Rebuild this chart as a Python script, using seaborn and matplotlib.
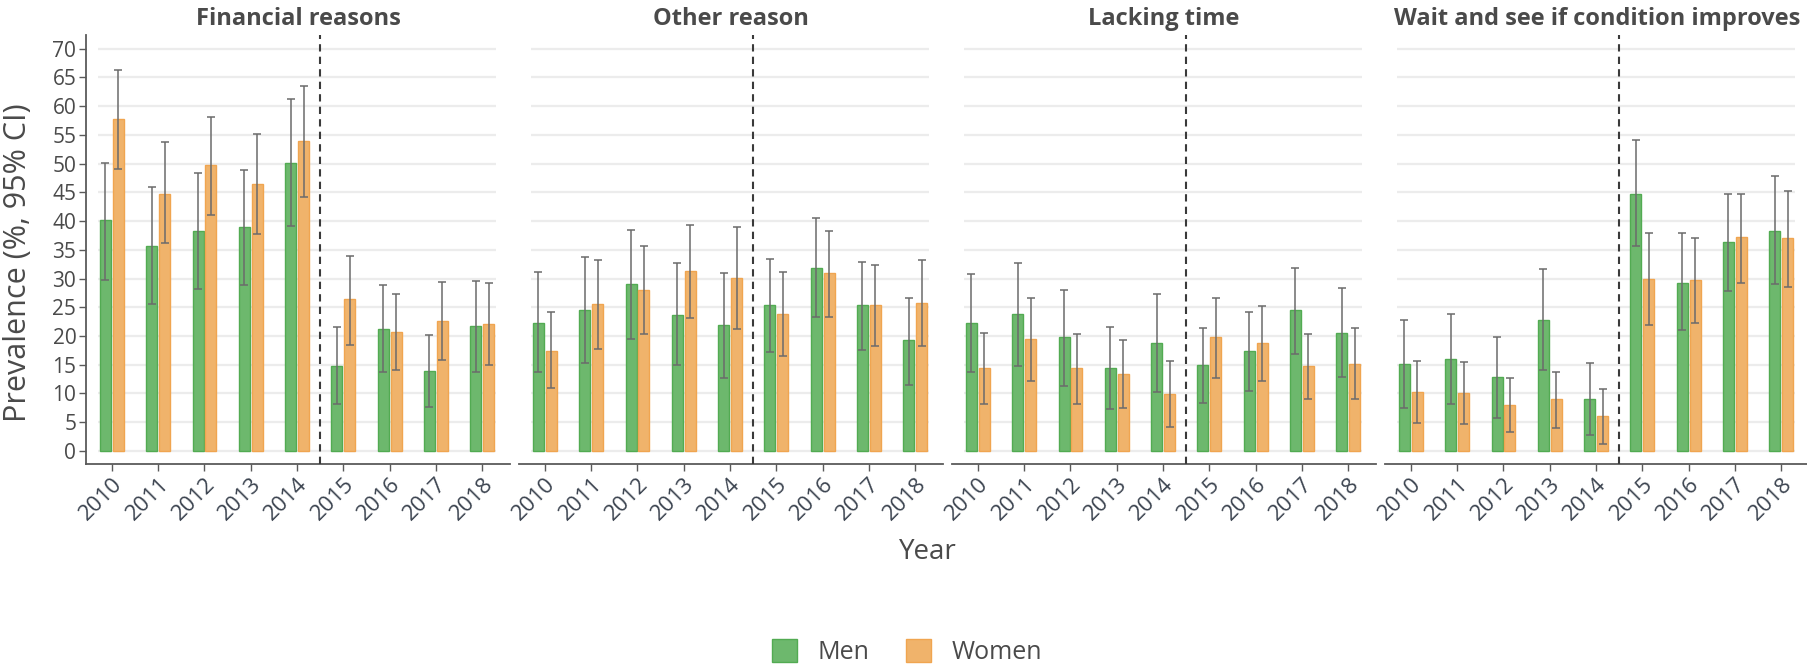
import numpy as np
import pandas as pd
import seaborn as sns
import matplotlib
matplotlib.use("Agg")
import matplotlib.pyplot as plt
from matplotlib.patches import Patch

# ---- data -----------------------------------------------------------------
years = ["2010", "2011", "2012", "2013", "2014", "2015", "2016", "2017", "2018"]
reasons = ["Financial reasons", "Other reason", "Lacking time",
           "Wait and see if condition improves"]
sexes = ["Men", "Women"]

# prevalence (%) with lower / upper 95% CI, one list per reason and sex
fin_men = [40.1, 35.6, 38.3, 39.0, 50.1, 14.7, 21.2, 13.9, 21.7]
fin_men_lo = [29.8, 25.5, 28.2, 28.9, 39.1, 8.2, 13.7, 7.7, 13.7]
fin_men_hi = [50.1, 45.9, 48.3, 48.9, 61.3, 21.5, 28.9, 20.1, 29.6]
fin_women = [57.7, 44.8, 49.8, 46.4, 53.9, 26.4, 20.7, 22.6, 22.1]
fin_women_lo = [49.0, 36.2, 41.1, 37.7, 44.2, 18.5, 14.0, 15.8, 14.9]
fin_women_hi = [66.3, 53.7, 58.2, 55.1, 63.6, 34.0, 27.3, 29.4, 29.3]

oth_men = [22.3, 24.6, 29.0, 23.7, 21.9, 25.4, 31.8, 25.4, 19.3]
oth_men_lo = [13.7, 15.3, 19.4, 14.9, 12.7, 17.2, 23.3, 17.6, 11.5]
oth_men_hi = [31.1, 33.8, 38.5, 32.7, 30.9, 33.4, 40.6, 32.9, 26.6]
oth_women = [17.4, 25.5, 28.0, 31.3, 30.1, 23.9, 30.9, 25.4, 25.7]
oth_women_lo = [11.0, 17.8, 20.3, 23.2, 21.2, 16.5, 23.3, 18.3, 18.2]
oth_women_hi = [24.1, 33.3, 35.6, 39.3, 39.0, 31.2, 38.3, 32.3, 33.3]

time_men = [22.3, 23.8, 19.8, 14.4, 18.7, 14.9, 17.3, 24.5, 20.5]
time_men_lo = [13.7, 14.7, 11.3, 7.2, 10.2, 8.4, 10.4, 16.9, 12.9]
time_men_hi = [30.8, 32.7, 28.0, 21.5, 27.3, 21.4, 24.1, 31.8, 28.4]
time_women = [14.4, 19.4, 14.4, 13.3, 9.9, 19.8, 18.7, 14.7, 15.1]
time_women_lo = [8.2, 12.2, 8.2, 7.4, 4.1, 12.7, 12.2, 9.0, 9.0]
time_women_hi = [20.5, 26.6, 20.3, 19.3, 15.6, 26.6, 25.2, 20.3, 21.4]

wait_men = [15.1, 16.0, 12.9, 22.8, 9.0, 44.8, 29.3, 36.3, 38.3]
wait_men_lo = [7.5, 8.1, 5.7, 14.0, 2.7, 35.6, 21.0, 27.9, 29.1]
wait_men_hi = [22.8, 23.9, 19.9, 31.6, 15.3, 54.1, 37.9, 44.7, 47.8]
wait_women = [10.2, 10.0, 7.9, 9.0, 6.0, 29.9, 29.7, 37.2, 37.0]
wait_women_lo = [4.9, 4.6, 3.2, 3.9, 1.2, 21.9, 22.3, 29.3, 28.6]
wait_women_hi = [15.6, 15.4, 12.6, 13.8, 10.8, 37.9, 37.1, 44.7, 45.3]

y_ticks = list(range(0, 75, 5))

series = {
    ("Financial reasons", "Men"): (fin_men, fin_men_lo, fin_men_hi),
    ("Financial reasons", "Women"): (fin_women, fin_women_lo, fin_women_hi),
    ("Other reason", "Men"): (oth_men, oth_men_lo, oth_men_hi),
    ("Other reason", "Women"): (oth_women, oth_women_lo, oth_women_hi),
    ("Lacking time", "Men"): (time_men, time_men_lo, time_men_hi),
    ("Lacking time", "Women"): (time_women, time_women_lo, time_women_hi),
    ("Wait and see if condition improves", "Men"): (wait_men, wait_men_lo, wait_men_hi),
    ("Wait and see if condition improves", "Women"): (wait_women, wait_women_lo, wait_women_hi),
}

rows = []
for (reason, sex), (val, lo, hi) in series.items():
    for yr, v, l, h in zip(years, val, lo, hi):
        rows.append(dict(reason=reason, year=yr, sex=sex, value=v, lo=l, hi=h))
df = pd.DataFrame(rows)

# ---- style ----------------------------------------------------------------
sns.set_theme(style="white")
plt.rcParams["font.family"] = ["Open Sans", "DejaVu Sans"]

fill = {"Men": "#6db86d", "Women": "#f0b36b"}
edge = {"Men": "#52ab52", "Women": "#f0a550"}
text_col = "#4a4a4a"
tick_col = "#3c4450"

W, H = 1807, 668
fig = plt.figure(figsize=(W / 100, H / 100), dpi=100)

ax_left0, ax_w, ax_step = 86, 424, 433
ax_top, ax_bottom = 35, 464

for i, reason in enumerate(reasons):
    left = ax_left0 + i * ax_step
    ax = fig.add_axes([left / W, (H - ax_bottom) / H, ax_w / W, (ax_bottom - ax_top) / H])
    sub = df[df.reason == reason]
    sns.barplot(data=sub, x="year", y="value", hue="sex", order=years,
                hue_order=sexes, palette=fill, saturation=1, width=0.56,
                gap=0.15, errorbar=None, legend=False, ax=ax, zorder=2)

    # bar outlines and confidence intervals
    for sex, cont in zip(sexes, ax.containers):
        s = sub[sub.sex == sex].set_index("year").loc[years]
        xs = []
        for p in cont.patches:
            p.set_edgecolor(edge[sex])
            p.set_linewidth(1.0)
            xs.append(p.get_x() + p.get_width() / 2)
        ax.errorbar(xs, s["value"].values,
                    yerr=[s["value"].values - s["lo"].values,
                          s["hi"].values - s["value"].values],
                    fmt="none", ecolor="#6b6b6b", elinewidth=1.1,
                    capsize=3.2, capthick=1.1, zorder=3)

    # horizontal guides spanning the bar region
    ax.hlines(y_ticks, -0.3, 8.3, colors="#ececec", linewidth=1.6, zorder=0)
    ax.axvline(4.5, color="#3a3a3a", linestyle=(0, (3.5, 2.5)), linewidth=1.5, zorder=4)

    ax.set_xlim(-0.56, 8.6)
    ax.set_ylim(-2.3, 72.4)
    ax.set_xlabel("")
    ax.set_ylabel("")
    ax.set_title(reason, fontsize=17, fontweight="bold", color=text_col, pad=7)

    for side in ["top", "right"]:
        ax.spines[side].set_visible(False)
    ax.spines["bottom"].set_color("#5a5a5a")
    ax.spines["bottom"].set_linewidth(1.3)

    ax.tick_params(axis="x", bottom=True, length=5, width=1, color="#5a5a5a",
                   labelsize=16, labelcolor=tick_col, pad=2)
    ax.set_xticks(range(len(years)))
    ax.set_xticklabels(years, rotation=45, ha="right", rotation_mode="anchor")

    if i == 0:
        ax.spines["left"].set_color("#5a5a5a")
        ax.spines["left"].set_linewidth(1.3)
        ax.set_yticks(y_ticks)
        ax.tick_params(axis="y", left=True, length=5, width=1, color="#5a5a5a",
                       labelsize=15, labelcolor=text_col, pad=2)
    else:
        ax.spines["left"].set_visible(False)
        ax.set_yticks([])

fig.text(18 / W, 1 - 263 / H, "Prevalence (%, 95% CI)", rotation=90,
         ha="center", va="center", fontsize=22, color=text_col)
fig.text(928 / W, 1 - 552 / H, "Year", ha="center", va="center",
         fontsize=20, color=text_col)

handles = [Patch(facecolor=fill[s], edgecolor=edge[s], linewidth=1.0, label=s) for s in sexes]
fig.legend(handles=handles, loc="center", bbox_to_anchor=(907 / W, 1 - 652 / H),
           ncol=2, frameon=False, fontsize=18, handlelength=1.0, handleheight=1.0,
           columnspacing=1.5, handletextpad=0.8, labelcolor=text_col)

fig.savefig("out.png", dpi=100)
